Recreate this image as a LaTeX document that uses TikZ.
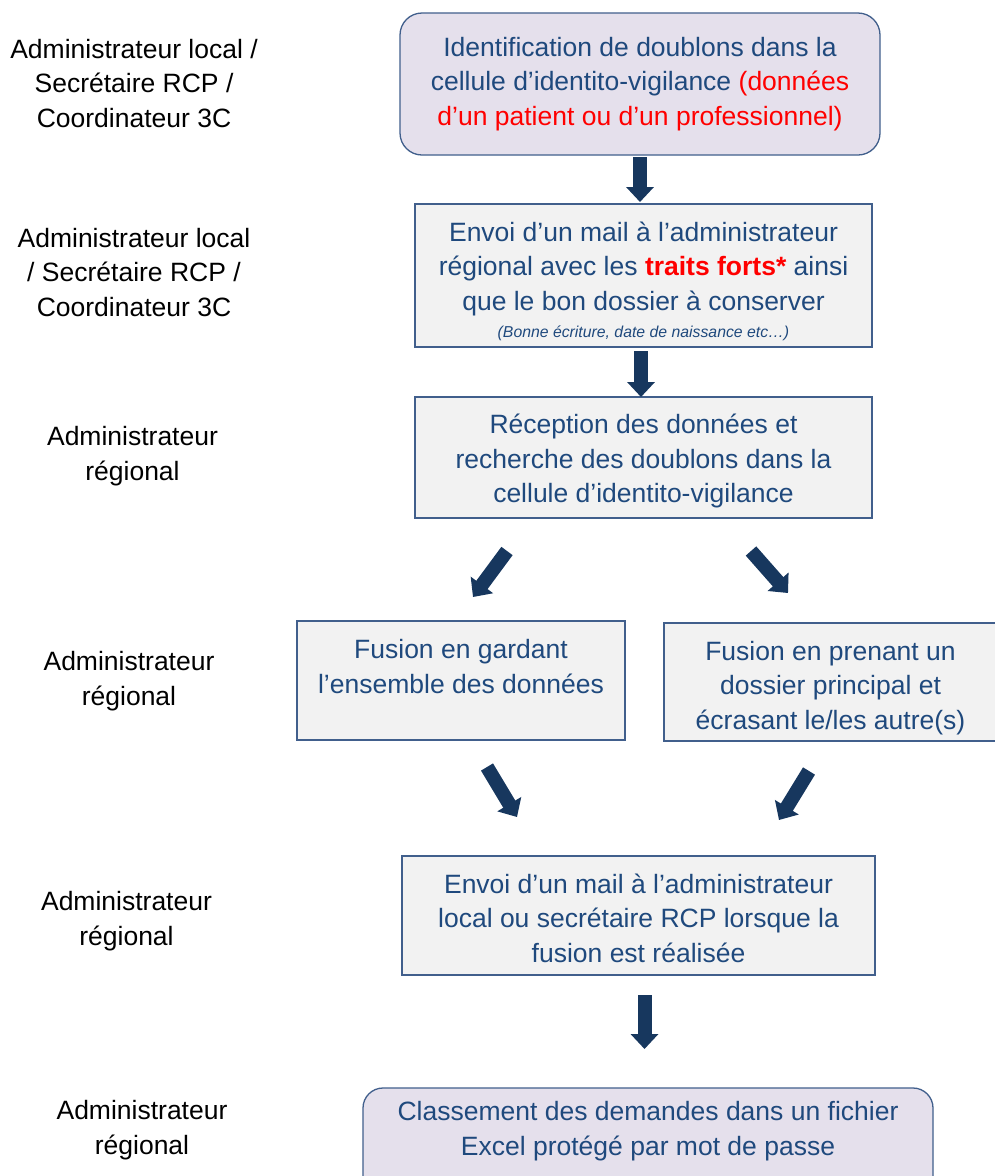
\documentclass[tikz,border=0pt]{standalone}
\usepackage{fontspec}
\setmainfont{Liberation Sans}
\usetikzlibrary{arrows.meta}
\definecolor{txtblue}{RGB}{31,73,125}
\definecolor{bordblue}{RGB}{65,95,140}
\definecolor{arrblue}{RGB}{23,55,94}
\definecolor{lav}{RGB}{229,224,236}
\definecolor{boxgrey}{RGB}{242,242,242}
\definecolor{redtxt}{RGB}{255,0,0}
\begin{document}
\begin{tikzpicture}[x=1pt,y=-1pt,
  every node/.style={inner sep=0pt, outer sep=0pt},
  mainfont/.style={font=\fontsize{26.5}{34.5}\selectfont},
  roundbox/.style={mainfont, draw=bordblue, line width=1.3pt, fill=lav, rounded corners=22pt, align=center, text=txtblue},
  flatbox/.style={mainfont, draw=bordblue, line width=1.3pt, fill=boxgrey, align=center, text=txtblue},
  role/.style={mainfont, align=center, text=black},
  blockarrow/.style={draw=arrblue, line width=14pt, -{Triangle[width=27pt,length=15pt]}}]
\useasboundingbox (0,0) rectangle (995,1176);
\clip (0,0) rectangle (995,1176);
\fill[white] (0,0) rectangle (995,1176);

% role labels
\node[role] (r1) at (134,83.5) {Administrateur local /\\Secrétaire RCP /\\Coordinateur 3C};
\node[role] (r2) at (134,272.5) {Administrateur local\\/ Secrétaire RCP /\\Coordinateur 3C};
\node[role] (r3) at (132.5,456) {Administrateur\\régional};
\node[role] (r4) at (129,681) {Administrateur\\régional};
\node[role] (r5) at (126.5,921) {Administrateur\\régional};
\node[role] (r6) at (142,1130) {Administrateur\\régional};

% boxes
\node[roundbox, minimum width=480pt, minimum height=142pt] (b1) at (640,84)
  {Identification de doublons dans la\\cellule d’identito-vigilance {\color{redtxt}(données}\\{\color{redtxt}d’un patient ou d’un professionnel)}};
\node[flatbox, minimum width=457pt, minimum height=143pt, text height=127pt] (b2) at (643.5,275.5)
  {Envoi d’un mail à l’administrateur\\régional avec les {\color{redtxt}\bfseries traits forts*} ainsi\\que le bon dossier à conserver\\[-7.5pt]{\fontsize{15.8}{18}\selectfont\itshape (Bonne écriture, date de naissance etc…)}};
\node[flatbox, minimum width=457pt, minimum height=121pt, text height=96pt] (b3) at (643.5,457.5)
  {Réception des données et\\recherche des doublons dans la\\cellule d’identito-vigilance};
\node[flatbox, minimum width=328pt, minimum height=119pt, text depth=28pt] (b4) at (461,680.5)
  {Fusion en gardant\\l’ensemble des données};
\node[flatbox, minimum width=333pt, minimum height=118pt, text height=100pt] (b5) at (830.5,682)
  {Fusion en prenant un\\dossier principal et\\écrasant le/les autre(s)};
\node[flatbox, minimum width=473pt, minimum height=119pt, text height=94pt] (b6) at (638.5,915.5)
  {Envoi d’un mail à l’administrateur\\local ou secrétaire RCP lorsque la\\fusion est réalisée};
\node[roundbox, rounded corners=20pt, minimum width=570pt, minimum height=112pt, text depth=31pt] (b7) at (648,1144)
  {Classement des demandes dans un fichier\\Excel protégé par mot de passe};

% arrow end points
\coordinate (a1s) at (640,157);   \coordinate (a1e) at (640,202);
\coordinate (a2s) at (641,351);   \coordinate (a2e) at (641,397);
\coordinate (a3s) at (507,551);   \coordinate (a3e) at (473,597);
\coordinate (a4s) at (751,551);   \coordinate (a4e) at (788,593);
\coordinate (a5s) at (487,767);   \coordinate (a5e) at (517,817);
\coordinate (a6s) at (809,771);   \coordinate (a6e) at (779,820);
\coordinate (a7s) at (644.5,995); \coordinate (a7e) at (644.5,1049);

\draw[blockarrow] (a1s) -- (a1e);
\draw[blockarrow] (a2s) -- (a2e);
\draw[blockarrow] (a3s) -- (a3e);
\draw[blockarrow] (a4s) -- (a4e);
\draw[blockarrow] (a5s) -- (a5e);
\draw[blockarrow] (a6s) -- (a6e);
\draw[blockarrow] (a7s) -- (a7e);
\end{tikzpicture}
\end{document}
